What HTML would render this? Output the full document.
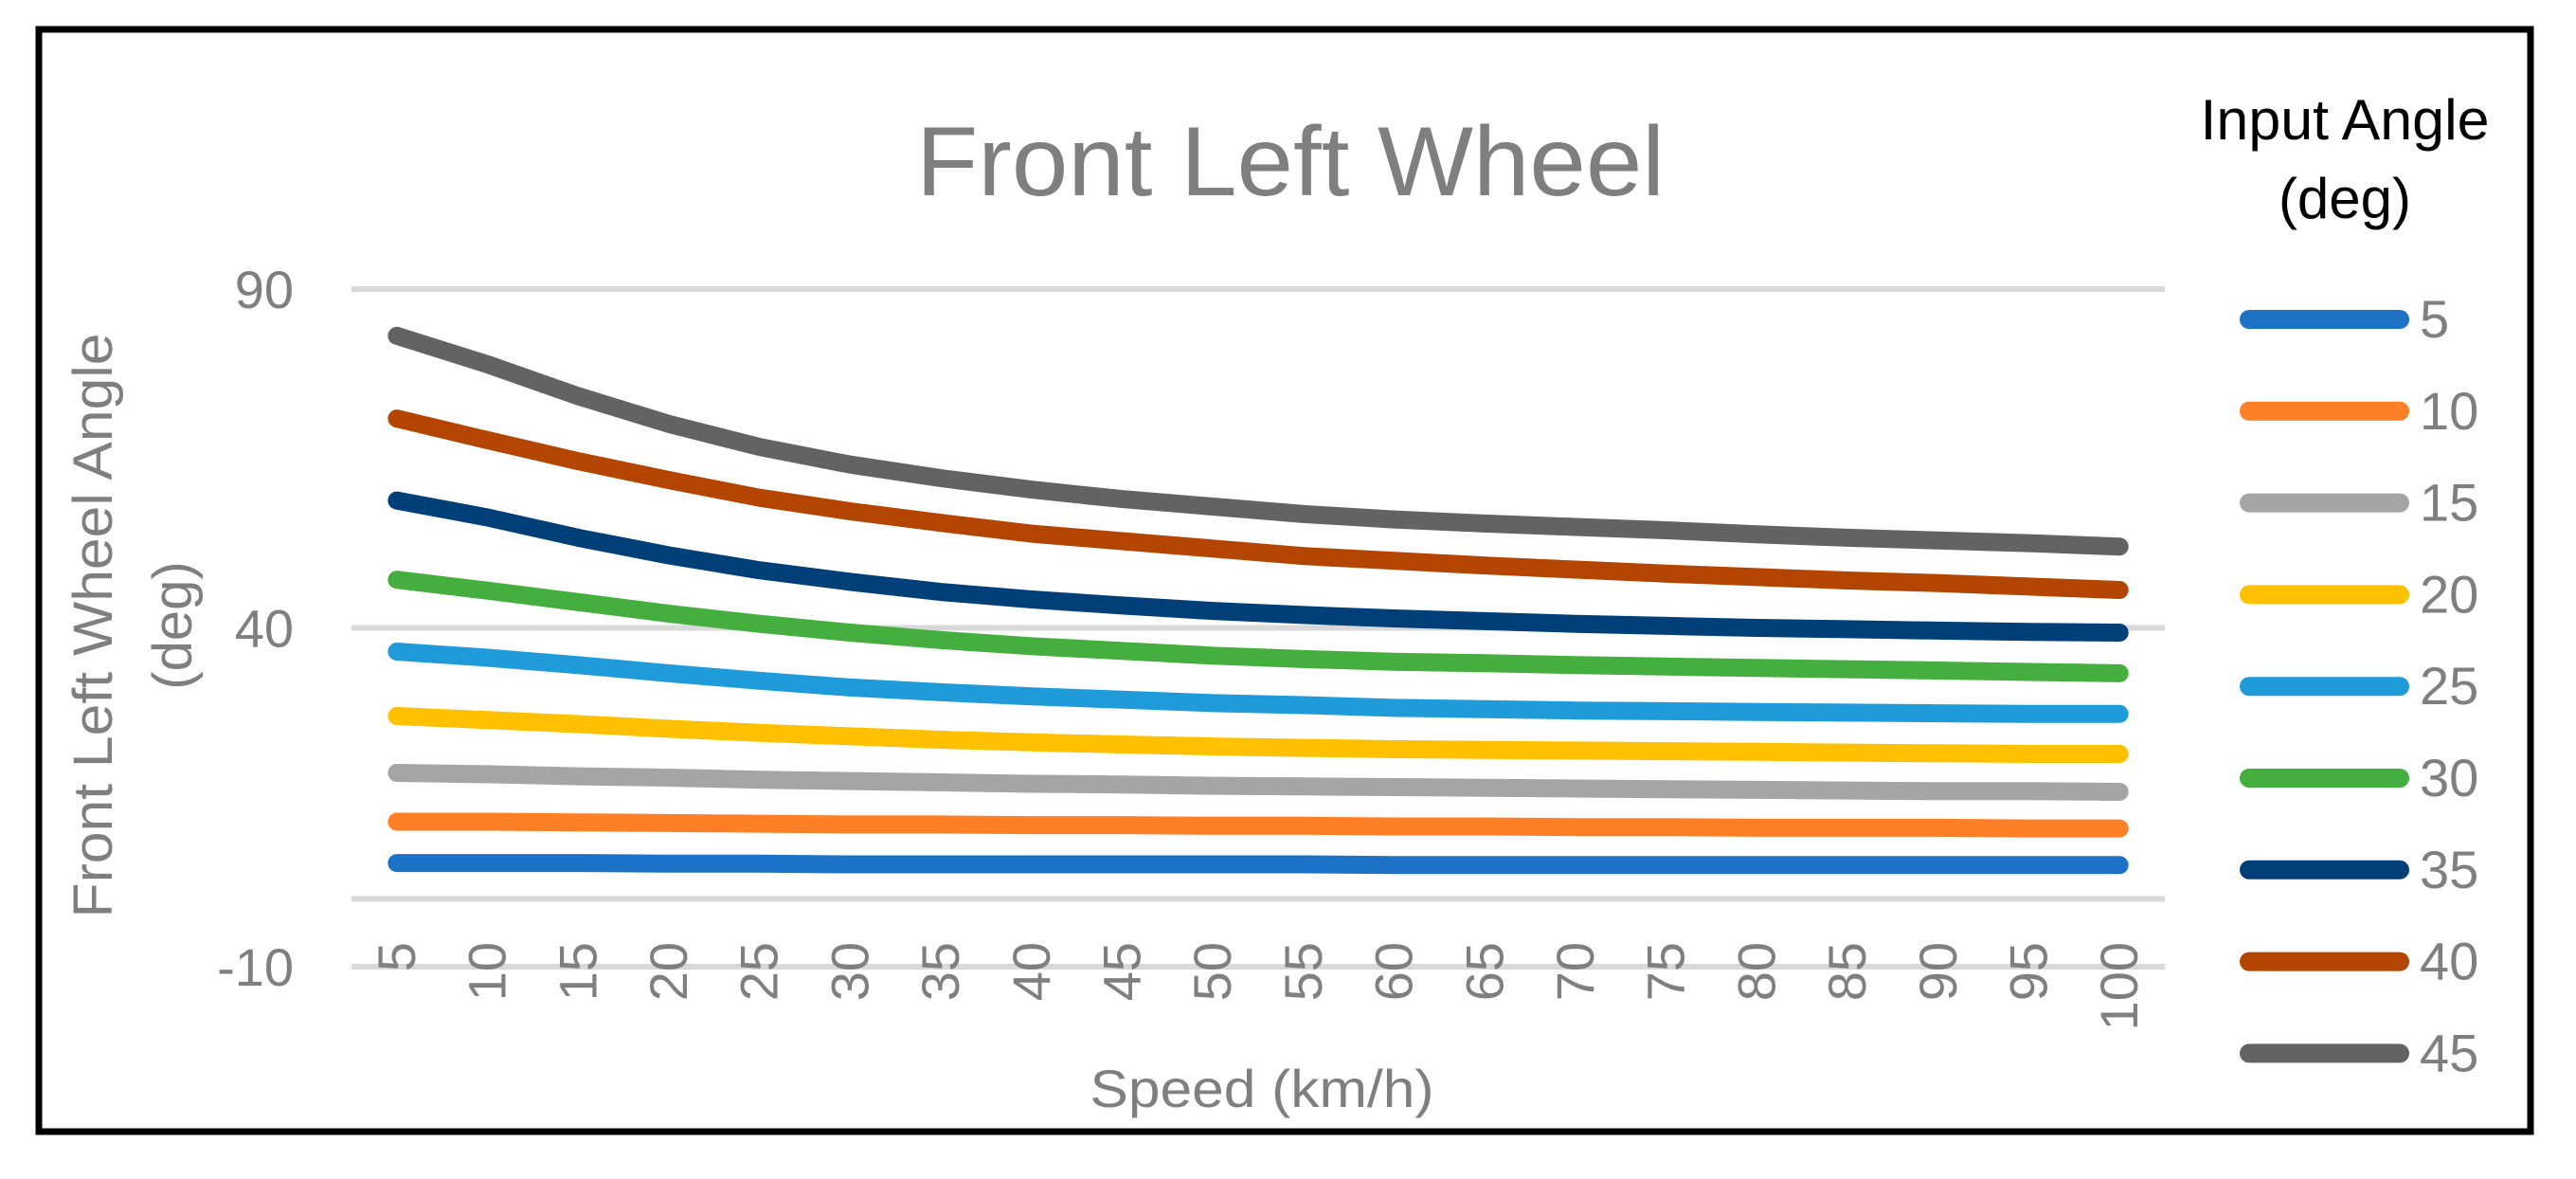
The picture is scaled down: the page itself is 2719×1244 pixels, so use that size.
<!DOCTYPE html>
<html><head><meta charset="utf-8"><style>
html,body{margin:0;padding:0;background:#fff;}
svg{display:block;font-family:"Liberation Sans",sans-serif;}
</style></head><body>
<svg id="chart" width="2719" height="1244" viewBox="0 0 2719 1244" xmlns="http://www.w3.org/2000/svg">
<rect x="41" y="31" width="2630" height="1163" fill="#fff" stroke="#000" stroke-width="7"/>
<text x="1362" y="206" text-anchor="middle" font-size="104" fill="#7f7f7f" textLength="790" lengthAdjust="spacingAndGlyphs">Front Left Wheel</text>
<g id="grid"></g>
<g id="yticks"></g>
<g id="xticks"></g>
<g id="series"></g>
<text transform="translate(118,660) rotate(-90)" text-anchor="middle" font-size="58" fill="#7f7f7f" textLength="617" lengthAdjust="spacingAndGlyphs">Front Left Wheel Angle</text>
<text transform="translate(202,660) rotate(-90)" text-anchor="middle" font-size="58" fill="#7f7f7f">(deg)</text>
<text x="1332" y="1168" text-anchor="middle" font-size="56" fill="#7f7f7f" textLength="363" lengthAdjust="spacingAndGlyphs">Speed (km/h)</text>
<g>
<text x="2475" y="147" text-anchor="middle" font-size="60" fill="#000" textLength="305" lengthAdjust="spacingAndGlyphs">Input Angle</text>
<text x="2475" y="230" text-anchor="middle" font-size="60" fill="#000">(deg)</text>
<g id="legend-items"></g>
</g>
</svg>
<script>
const categories = [5,10,15,20,25,30,35,40,45,50,55,60,65,70,75,80,85,90,95,100];
const seriesNames = ["5","10","15","20","25","30","35","40","45"];
const s5  = [5.3,5.3,5.3,5.2,5.2,5.1,5.1,5.1,5.1,5.1,5.1,5.0,5.0,5.0,5.0,5.0,5.0,5.0,5.0,5.0];
const s10 = [11.4,11.4,11.3,11.2,11.1,11.0,11.0,10.9,10.9,10.8,10.8,10.7,10.7,10.6,10.6,10.5,10.5,10.5,10.4,10.4];
const s15 = [18.6,18.4,18.1,17.9,17.6,17.4,17.2,17.0,16.9,16.7,16.6,16.5,16.4,16.3,16.2,16.1,16.0,15.9,15.9,15.8];
const s20 = [27.0,26.4,25.8,25.1,24.5,24.0,23.5,23.1,22.8,22.5,22.3,22.1,22.0,21.9,21.8,21.7,21.6,21.5,21.4,21.4];
const s25 = [36.5,35.6,34.5,33.3,32.2,31.2,30.5,29.9,29.4,28.9,28.6,28.2,28.0,27.8,27.7,27.6,27.5,27.4,27.3,27.3];
const s30 = [47.1,45.5,43.8,42.1,40.6,39.3,38.2,37.3,36.6,35.9,35.4,35.0,34.8,34.5,34.3,34.1,33.9,33.7,33.5,33.3];
const s35 = [58.8,56.3,53.3,50.7,48.5,46.8,45.3,44.2,43.3,42.5,41.9,41.4,41.0,40.6,40.3,40.0,39.8,39.6,39.4,39.3];
const s40 = [70.9,67.7,64.6,61.8,59.2,57.2,55.5,53.9,52.8,51.7,50.6,49.9,49.2,48.6,48.0,47.5,47.0,46.6,46.1,45.6];
const s45 = [83.1,78.9,74.2,70.1,66.7,64.1,62.1,60.4,59.0,57.9,56.8,56.0,55.4,54.9,54.4,53.8,53.3,52.9,52.5,52.0];
const seriesValues = [s5,s10,s15,s20,s25,s30,s35,s40,s45];
const colors = ["#1b72c7","#ff7f27","#a5a5a5","#ffc000","#1f9bda","#44ae3e","#003f77","#b34500","#636363"];
const yTickLabels = [90,40,-10];
const gridValues = [90,40,0,-10];

const NS = "http://www.w3.org/2000/svg";
const plotL = 371, plotR = 2285;
const yTop = 305, yBot = 1020, vTop = 90, vBot = -10;
function yScale(v){ return yTop + (vTop - v) * (yBot - yTop) / (vTop - vBot); }
function xScale(i){ const w = (plotR - plotL) / categories.length; return plotL + w * (i + 0.5); }
function mk(tag, attrs, parent){ const e = document.createElementNS(NS, tag); for (const k in attrs) e.setAttribute(k, attrs[k]); parent.appendChild(e); return e; }

const grid = document.getElementById("grid");
gridValues.forEach(v => {
  const l = mk("line", {x1: plotL, x2: plotR, y1: yScale(v), y2: yScale(v), stroke: "#d9d9d9", "stroke-width": 6}, grid);
  
  
});
const yt = document.getElementById("yticks");
yTickLabels.forEach(v => {
  const t = mk("text", {x: 310, y: yScale(v) + 20, "text-anchor": "end", "font-size": 56, fill: "#7f7f7f"}, yt);
  t.textContent = v;
  
  
});
const xt = document.getElementById("xticks");
categories.forEach((c, i) => {
  const x = xScale(i) + 19;
  const t = mk("text", {transform: "translate(" + x + ",994) rotate(-90)", "text-anchor": "end", "font-size": 56, fill: "#7f7f7f"}, xt);
  t.textContent = c;
  
  
});
const sg = document.getElementById("series");
seriesValues.forEach((vals, si) => {
  const d = vals.map((v, i) => (i ? "L" : "M") + xScale(i).toFixed(1) + " " + yScale(v).toFixed(1)).join(" ");
  const p = mk("path", {d: d, fill: "none", stroke: colors[si], "stroke-width": 19, "stroke-linecap": "round", "stroke-linejoin": "round"}, sg);
  
  
});
const lg = document.getElementById("legend-items");
seriesNames.forEach((n, i) => {
  const y = 337 + i * 96.8;
  const l = mk("line", {x1: 2374, x2: 2533, y1: y, y2: y, stroke: colors[i], "stroke-width": 20, "stroke-linecap": "round"}, lg);
  
  
  const t = mk("text", {x: 2554, y: y + 19, "font-size": 56, fill: "#7f7f7f"}, lg);
  t.textContent = n;
  
  
});
</script>
</body></html>
